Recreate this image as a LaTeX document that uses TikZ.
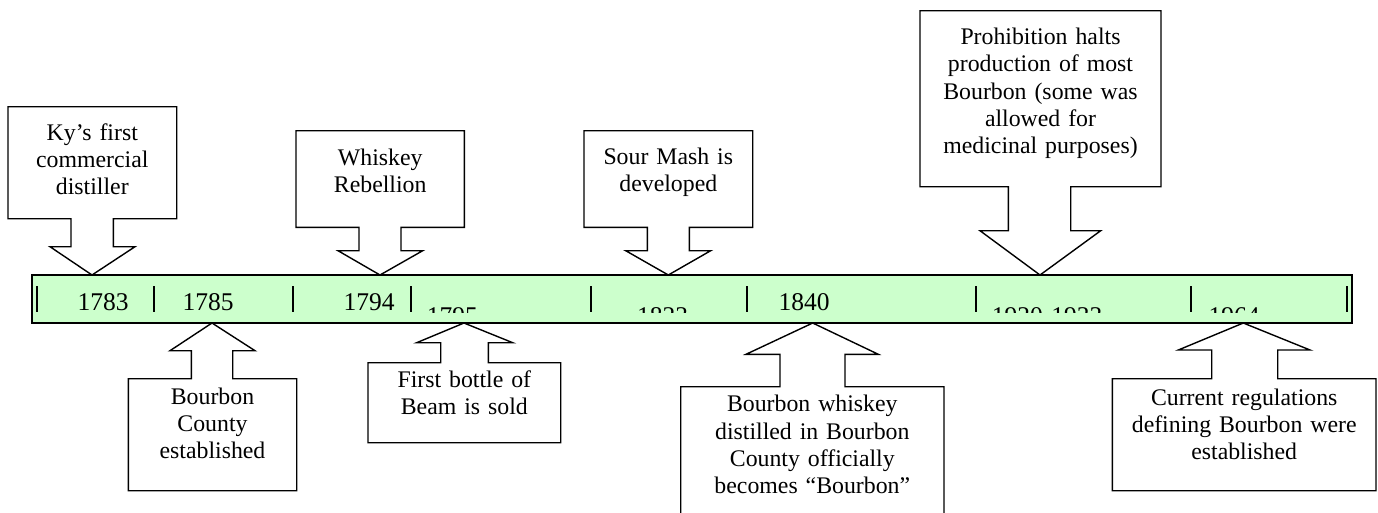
\documentclass[tikz,border=0pt]{standalone}
\usepackage{fontspec}
\setmainfont{Liberation Serif}
\definecolor{barfill}{HTML}{CCFFCC}
\tikzset{
  callout/.style={draw=black, fill=white, line width=1.4pt, line join=miter},
  bar/.style={draw=black, fill=barfill, line width=1.4pt},
  tick/.style={draw=black, line width=2.2pt},
  boxtext/.style={inner sep=0pt, anchor=base, align=center,
    font=\fontsize{23.8}{27.4}\selectfont},
  yeartext/.style={inner sep=0pt, font=\fontsize{25.5}{27}\selectfont},
}
\begin{document}
\begin{tikzpicture}[x=1pt,y=-1pt]
\useasboundingbox (0,0) rectangle (1378,512);
\begin{scope}
\clip (0,0) rectangle (1378,512);
% timeline bar
\draw[bar] (32,275) rectangle (1352,323);
\node[coordinate] (barTL) at (32,275) {};
% ticks
\foreach \x in {37,154,292.7,410.7,591,746.7,976,1190.7,1346.7}
  \draw[tick] (\x,286) -- (\x,312);
% years
\node[yeartext, anchor=base] (y1783) at (103,310) {1783};
\node[yeartext, anchor=base] (y1785) at (208,310) {1785};
\node[yeartext, anchor=base] (y1794) at (369,310) {1794};
\node[yeartext, anchor=base] (y1840) at (804,310) {1840};
\begin{scope}
\clip (32,275) rectangle (1352,312.6);
\node[yeartext, anchor=base west] (y1795) at (426.7,324.7) {1795};
\node[yeartext, anchor=base west] (y1823) at (637,324.7) {1823};
\node[yeartext, anchor=base west] (y1920) at (991.7,324.7) {1920-1933};
\node[yeartext, anchor=base west] (y1964) at (1208.3,324.7) {1964};
\end{scope}
% down callouts
\draw[callout] (8,106.7) -- (176.7,106.7) -- (176.7,218.7) -- (113.3,218.7) -- (113.3,246.7) -- (135,246.7) -- (92,275) -- (50,246.7) -- (71,246.7) -- (71,218.7) -- (8,218.7) -- cycle;
\node[boxtext, text width=168pt] (c1) at (92.3,140) {Ky’s first\\commercial\\distiller};
\draw[callout] (296,130.7) -- (464.3,130.7) -- (464.3,227.3) -- (401,227.3) -- (401,250.7) -- (422.7,250.7) -- (380,275) -- (338,250.7) -- (359,250.7) -- (359,227.3) -- (296,227.3) -- cycle;
\node[boxtext, text width=168pt] (c2) at (380.2,165) {Whiskey\\Rebellion};
\draw[callout] (584,130.7) -- (752.7,130.7) -- (752.7,227.3) -- (689.3,227.3) -- (689.3,250.7) -- (710.7,250.7) -- (668.3,275) -- (625.7,250.7) -- (647.3,250.7) -- (647.3,227.3) -- (584,227.3) -- cycle;
\node[boxtext, text width=168pt] (c3) at (668.3,164) {Sour Mash is\\developed};
\draw[callout] (920,10.7) -- (1161,10.7) -- (1161,186.7) -- (1070.7,186.7) -- (1070.7,230.7) -- (1100.7,230.7) -- (1040,275) -- (980,230.7) -- (1008.3,230.7) -- (1008.3,186.7) -- (920,186.7) -- cycle;
\node[boxtext, text width=240pt] (c4) at (1040.5,44.3) {Prohibition halts\\production of most\\Bourbon (some was\\allowed for\\medicinal purposes)};
% up callouts
\draw[callout] (212,323) -- (255,350.7) -- (232.7,350.7) -- (232.7,378.7) -- (296.7,378.7) -- (296.7,490.7) -- (128.3,490.7) -- (128.3,378.7) -- (191.3,378.7) -- (191.3,350.7) -- (170,350.7) -- cycle;
\node[boxtext, text width=168pt] (c5) at (212.5,404) {Bourbon\\County\\established};
\draw[callout] (464,323) -- (512.7,342.7) -- (488.3,342.7) -- (488.3,362.7) -- (560.7,362.7) -- (560.7,442.7) -- (368,442.7) -- (368,362.7) -- (440.7,362.7) -- (440.7,342.7) -- (416.7,342.7) -- cycle;
\node[boxtext, text width=192pt] (c6) at (464.3,387) {First bottle of\\Beam is sold};
\draw[callout] (812.7,323) -- (878.3,354.3) -- (845,354.3) -- (845,386.7) -- (944,386.7) -- (944,530) -- (680.7,530) -- (680.7,386.7) -- (780,386.7) -- (780,354.3) -- (746,354.3) -- cycle;
\node[boxtext, text width=262pt] (c7) at (812.3,411.7) {Bourbon whiskey\\distilled in Bourbon\\County officially\\becomes “Bourbon”};
\draw[callout] (1243.3,323) -- (1310,350) -- (1277.7,350) -- (1277.7,378.7) -- (1376,378.7) -- (1376,490.7) -- (1112.3,490.7) -- (1112.3,378.7) -- (1211.7,378.7) -- (1211.7,350) -- (1178.3,350) -- cycle;
\node[boxtext, text width=262pt] (c8) at (1244.2,405) {Current regulations\\defining Bourbon were\\established};
\end{scope}
\end{tikzpicture}
\end{document}
